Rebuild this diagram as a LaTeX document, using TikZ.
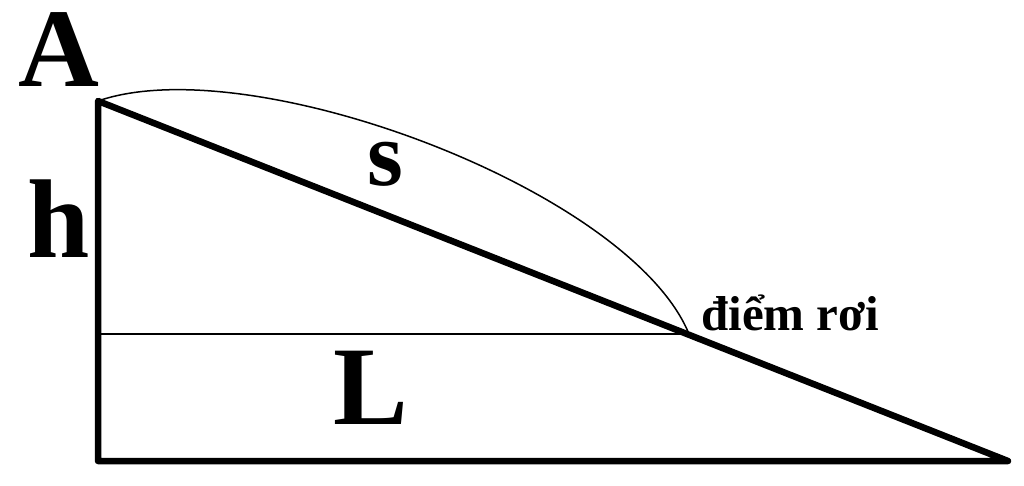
\documentclass[tikz,border=0pt]{standalone}
\usepackage{fontspec}
\setmainfont{Liberation Serif}
\begin{document}
\begin{tikzpicture}[x=1pt,y=-1pt,
  thickline/.style={line width=6.5pt,line join=round,line cap=round},
  thinline/.style={line width=2pt},
  path/.style={line width=1.5pt},
  big/.style={inner sep=0pt,anchor=base,font=\fontsize{112}{112}\selectfont\bfseries},
  mid/.style={inner sep=0pt,anchor=base,font=\fontsize{92}{92}\selectfont\bfseries},
  small/.style={inner sep=0pt,anchor=base west,font=\fontsize{49}{49}\selectfont\bfseries}]
\useasboundingbox (0,0) rectangle (1024,486);
\coordinate (A) at (98,101);
\coordinate (B) at (98,461);
\coordinate (C) at (1008,461);
\coordinate (P) at (689,334);
\coordinate (Q) at (98,334);
\draw[thinline] (Q) -- (P);
\draw[path] (A) .. controls (250,48) and (630,190) .. (P);
\draw[thickline] (A) -- (B) -- (C) -- cycle;
\node[big] (lA) at (59,87) {A};
\node[big] (lh) at (59,258) {h};
\node[mid] (ls) at (385,186) {s};
\node[big] (lL) at (371,424) {L};
\node[small] (ld) at (701,330) {điểm rơi};
\end{tikzpicture}
\end{document}
